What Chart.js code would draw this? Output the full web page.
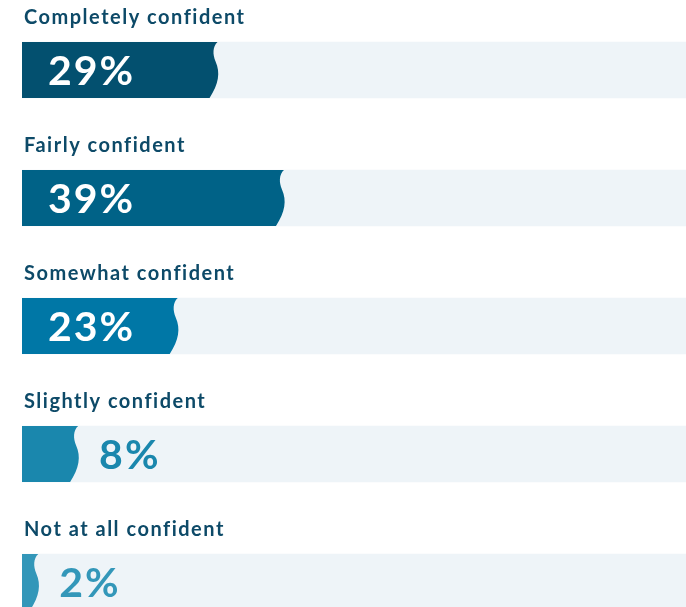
<!DOCTYPE html>
<html>
<head>
<meta charset="utf-8">
<script src="https://cdn.jsdelivr.net/npm/chart.js@4.4.1/dist/chart.umd.min.js"></script>
<style>
    html, body { margin: 0; padding: 0; background: #fff; overflow: hidden; }
    .wrap { position: absolute; left: 0; top: 0; width: 686px; height: 650px; }
</style>
</head>
<body>
<div class="wrap"><canvas id="chart"></canvas></div>
<script>
const categories = ['Completely confident', 'Fairly confident', 'Somewhat confident', 'Slightly confident', 'Not at all confident'];
const shares = [29, 39, 23, 8, 2];
const fullTrack = [100, 100, 100, 100, 100];
const barColors = ['#03506f', '#006287', '#0077a6', '#1a87ad', '#3397b9'];

// draws the value bars with a wavy right edge, plus labels
const wavyBars = {
    id: 'wavyBars',
    beforeDatasetDraw(chart, args) {
        if (args.index !== 1) return;
        const ctx = chart.ctx;
        args.meta.data.forEach(function (bar, i) {
            const X = bar.x, y0 = bar.y - bar.height / 2, y1 = bar.y + bar.height / 2, h = bar.height;
            ctx.save();
            ctx.fillStyle = bar.options.backgroundColor;
            ctx.beginPath();
            ctx.moveTo(bar.base, y0);
            ctx.lineTo(X + 3, y0);
            ctx.bezierCurveTo(X - 2, y0 + 0.08 * h, X - 2, y0 + 0.22 * h, X + 1, y0 + 0.35 * h);
            ctx.bezierCurveTo(X + 6, y0 + 0.55 * h, X + 4, y0 + 0.75 * h, X - 5, y1);
            ctx.lineTo(bar.base, y1);
            ctx.closePath();
            ctx.fill();
            ctx.restore();
        });
        return false;
    },
    afterDatasetsDraw(chart) {
        const ctx = chart.ctx;
        const meta = chart.getDatasetMeta(1);
        meta.data.forEach(function (bar, i) {
            const y0 = bar.y - bar.height / 2;
            ctx.save();
            ctx.fillStyle = '#0d4a68';
            ctx.font = 'bold 20px Lato';
            ctx.letterSpacing = '1.5px';
            ctx.textBaseline = 'alphabetic';
            ctx.textAlign = 'left';
            ctx.fillText(chart.data.labels[i], 24, y0 - 18);

            ctx.font = 'bold 41px Lato';
            ctx.letterSpacing = '2px';
            const txt = shares[i] + '%';
            if (bar.x - bar.base > 100) {
                ctx.fillStyle = '#ffffff';
                ctx.fillText(txt, bar.base + 26, bar.y + 15);
            } else {
                ctx.fillStyle = barColors[i];
                ctx.fillText(txt, bar.x + 24, bar.y + 15);
            }
            ctx.restore();
        });
    }
};

new Chart(document.getElementById('chart'), {
    type: 'bar',
    data: {
        labels: categories,
        datasets: [
            {
                data: fullTrack,
                backgroundColor: '#eef4f8',
                barThickness: 56,
                grouped: false,
                order: 2
            },
            {
                data: shares,
                backgroundColor: barColors,
                barThickness: 56,
                grouped: false,
                order: 1
            }
        ]
    },
    options: {
        indexAxis: 'y',
        responsive: true,
        maintainAspectRatio: false,
        animation: false,
        layout: { padding: { left: 22, right: 0, top: 6, bottom: 4 } },
        scales: {
            x: { display: false, min: 0, max: 100 },
            y: { display: false }
        },
        plugins: {
            legend: { display: false },
            tooltip: { enabled: false }
        }
    },
    plugins: [wavyBars]
});
</script>
</body>
</html>
